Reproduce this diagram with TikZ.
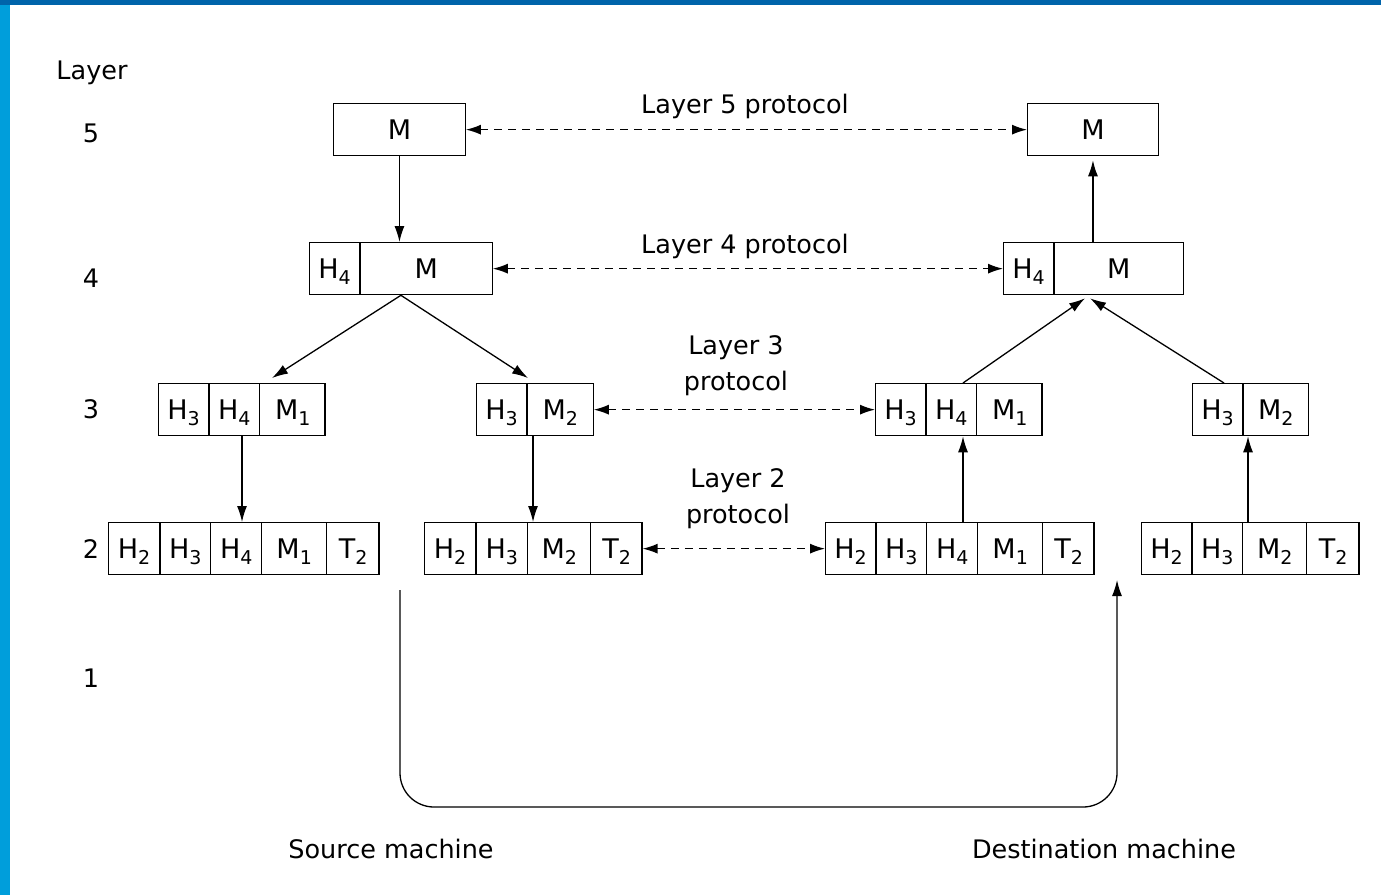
\documentclass[tikz,border=0pt]{standalone}
\usepackage{fontspec}
\setmainfont{DejaVu Sans}
\usetikzlibrary{shapes.multipart,arrows.meta,calc}
\definecolor{barblue}{HTML}{0064AA}
\definecolor{sideblue}{HTML}{009EDB}
\newcommand\lsub[1]{\raisebox{-0.2em}{\fontsize{9.5}{9.5}\selectfont #1}}
\newcommand\cell[2]{\makebox[\dimexpr#1-0.7pt\relax]{\rule[-8pt]{0pt}{26pt}#2}}
\tikzset{
  frame/.style={
      draw,
      line width=0.65pt,
      rectangle split,
      rectangle split horizontal,
      rectangle split parts=#1,
      inner xsep=0pt,
      inner ysep=0pt,
      anchor=north west,
      font=\fontsize{13.5}{16}\selectfont
  },
  note/.style={
      font=\fontsize{12.75}{18}\selectfont,
      align=center
  },
  flow/.style={line width=0.65pt, -{Latex[length=8pt,width=5pt]}},
  proto/.style={
      line width=0.65pt,
      {Latex[length=7.5pt,width=5pt]}-{Latex[length=7.5pt,width=5pt]},
      dash pattern=on 4pt off 3pt
  }
}

\begin{document}
\begin{tikzpicture}[x=0.5pt,y=-0.5pt]
    \useasboundingbox (0,0) rectangle (1381,895);
    \fill[sideblue] (0,0) rectangle (10,895);
    \fill[barblue] (0,0) rectangle (1381,5);

    % layer numbers
    \node[note,anchor=base] (layer) at (92,79) {Layer};
    \node[note,anchor=base] (n5) at (91,142) {5};
    \node[note,anchor=base] (n4) at (91,287) {4};
    \node[note,anchor=base] (n3) at (91,418) {3};
    \node[note,anchor=base] (n2) at (91,558) {2};
    \node[note,anchor=base] (n1) at (91,687) {1};

    % source machine
    \node[frame=1] (m5l) at (333,103) {\cell{66.5pt}{M}};
    \node[frame=2] (h4l) at (309,242) {\cell{25.5pt}{H\lsub4}\nodepart{two}\cell{66.5pt}{M}};
    \node[frame=3] (l3a) at (158,383) {\cell{25.5pt}{H\lsub3}\nodepart{two}\cell{25.5pt}{H\lsub4}\nodepart{three}\cell{33pt}{M\lsub1}};
    \node[frame=2] (l3b) at (476,383) {\cell{25.5pt}{H\lsub3}\nodepart{two}\cell{33.5pt}{M\lsub2}};
    \node[frame=5] (l2a) at (108,522) {\cell{26pt}{H\lsub2}\nodepart{two}\cell{25.5pt}{H\lsub3}\nodepart{three}\cell{25.5pt}{H\lsub4}\nodepart{four}\cell{32.5pt}{M\lsub1}\nodepart{five}\cell{26.5pt}{T\lsub2}};
    \node[frame=4] (l2b) at (424,522) {\cell{26pt}{H\lsub2}\nodepart{two}\cell{26pt}{H\lsub3}\nodepart{three}\cell{31.5pt}{M\lsub2}\nodepart{four}\cell{26pt}{T\lsub2}};

    % destination machine
    \node[frame=1] (m5r) at (1027,103) {\cell{66pt}{M}};
    \node[frame=2] (h4r) at (1003,242) {\cell{25.5pt}{H\lsub4}\nodepart{two}\cell{65pt}{M}};
    \node[frame=3] (l3c) at (875,383) {\cell{25.5pt}{H\lsub3}\nodepart{two}\cell{25.5pt}{H\lsub4}\nodepart{three}\cell{33pt}{M\lsub1}};
    \node[frame=2] (l3d) at (1192,383) {\cell{25.5pt}{H\lsub3}\nodepart{two}\cell{33pt}{M\lsub2}};
    \node[frame=5] (l2c) at (825,522) {\cell{25.5pt}{H\lsub2}\nodepart{two}\cell{25.5pt}{H\lsub3}\nodepart{three}\cell{25.5pt}{H\lsub4}\nodepart{four}\cell{32.5pt}{M\lsub1}\nodepart{five}\cell{26pt}{T\lsub2}};
    \node[frame=4] (l2d) at (1141,522) {\cell{25.5pt}{H\lsub2}\nodepart{two}\cell{25.5pt}{H\lsub3}\nodepart{three}\cell{32pt}{M\lsub2}\nodepart{four}\cell{26.5pt}{T\lsub2}};

    % protocol labels
    \node[note,anchor=base] (p5) at (745,113) {Layer 5 protocol};
    \node[note,anchor=base] (p4) at (745,253) {Layer 4 protocol};
    \node[note] (p3) at (736,366) {Layer 3\\protocol};
    \node[note] (p2) at (738,499) {Layer 2\\protocol};
    \node[note,anchor=base] (src) at (391,858) {Source machine};
    \node[note,anchor=base] (dst) at (1104,858) {Destination machine};

    % peer protocols
    \draw[proto] (m5l.east) -- (m5r.west);
    \draw[proto] (h4l.east) -- (h4r.west);
    \draw[proto] (l3b.east) -- (l3c.west);
    \draw[proto] (l2b.east) -- (l2c.west);

    % down the source stack
    \draw[flow] (m5l.south) -- (m5l.south |- h4l.north);
    \draw[flow] (h4l.south) -- ($(l3a.north west)+(57pt,2.5pt)$);
    \draw[flow] (h4l.south) -- ($(l3b.north west)+(26pt,2.5pt)$);
    \draw[flow] ($(l3a.south west)+(42pt,0)$) -- ($(l2a.north west)+(67pt,0)$);
    \draw[flow] ($(l3b.south west)+(28.5pt,0)$) -- ($(l2b.north west)+(54.5pt,0)$);

    % physical medium
    \coordinate (out) at (400,590);
    \coordinate (in) at (1117,580);
    \coordinate (wire) at (760,807);
    \draw[flow,rounded corners=17pt] (out) -- (out |- wire) -- (in |- wire) -- (in);

    % up the destination stack
    \draw[flow] ($(l2c.north west)+(69pt,0)$) -- ($(l3c.south west)+(44pt,0)$);
    \draw[flow] ($(l2d.north west)+(53.5pt,0)$) -- ($(l3d.south west)+(28pt,0)$);
    \draw[flow] ($(l3c.north west)+(44pt,0)$) -- ($(h4r.south west)+(41pt,-1.5pt)$);
    \draw[flow] ($(l3d.north west)+(16pt,0)$) -- ($(h4r.south west)+(43.5pt,-1.5pt)$);
    \draw[flow] (m5r.south |- h4r.north) -- ([yshift=-2pt]m5r.south);
\end{tikzpicture}
\end{document}
